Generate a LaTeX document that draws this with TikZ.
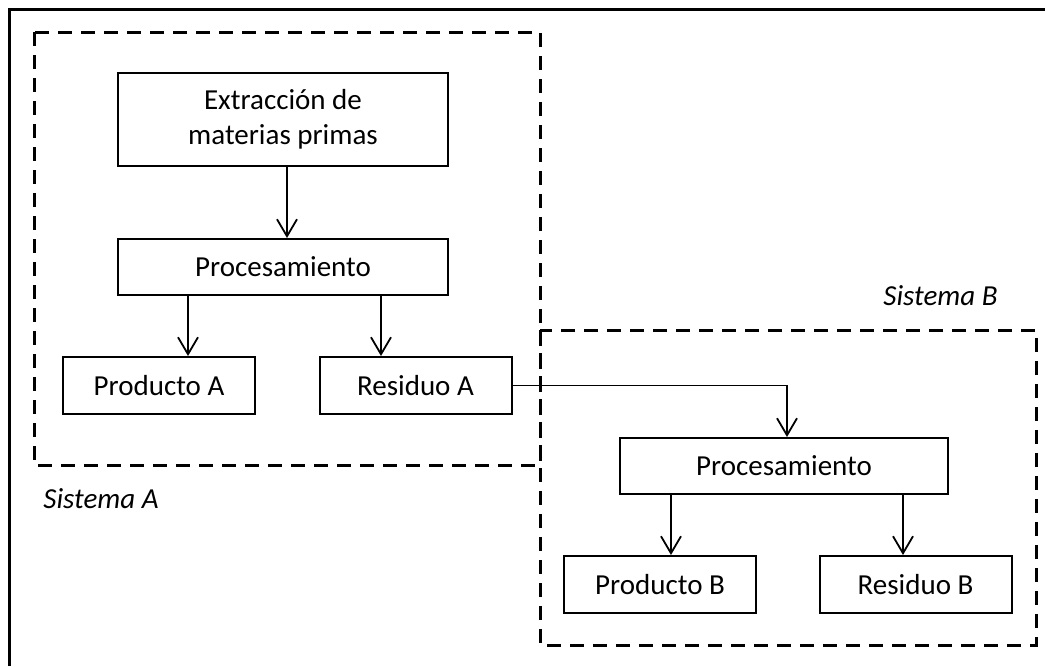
\documentclass[tikz,border=0pt]{standalone}
\usepackage{fontspec}
\setmainfont{Carlito}
\usetikzlibrary{arrows.meta, positioning, calc}

\begin{document}
\begin{tikzpicture}[
    x=0.5pt, y=-0.5pt,
    block/.style={draw=black, line width=1pt, minimum width=96pt, minimum height=28.5pt, inner sep=0pt, font=\fontsize{14.5}{17.5}\selectfont},
    wide/.style={minimum width=165pt},
    edge/.style={-{Straight Barb[length=8.5pt, width=10pt]}, line width=0.9pt},
    system/.style={dash pattern=on 7pt off 4.5pt, line width=1.5pt},
    label/.style={font=\fontsize{14.5}{17.5}\selectfont\itshape, anchor=base west, inner sep=0pt}
]
\useasboundingbox (0,0) rectangle (1045,666);

% outer frame, left and top edges
\draw[line width=1.5pt] (9,666) -- (9,9) -- (1045,9);

% System A
\node[block, wide, minimum height=46.5pt, align=center] (extr) at (283,119.5) {Extracción de\\materias primas};
\node[block, wide, minimum height=28pt] (procA) at (283,267) {Procesamiento};
\node[block] (prodA) at (159,385.5) {Producto A};
\node[block] (resA) at (415.5,385.5) {Residuo A};

\draw[edge] ([xshift=2pt]extr.south) -- ([xshift=2pt]procA.north);
\draw[edge] ([xshift=-47.5pt]procA.south) -- ([xshift=-47.5pt]procA.south |- prodA.north);
\draw[edge] ([xshift=49pt]procA.south) -- ([xshift=49pt]procA.south |- resA.north);

\draw[system] (34,32) rectangle (540,465);
\node[label] (sysA) at (43,508) {Sistema A};

% System B
\node[block, minimum width=164pt, minimum height=28pt] (procB) at (784,466) {Procesamiento};
\node[block] (prodB) at (660,584.5) {Producto B};
\node[block] (resB) at (915.5,584.5) {Residuo B};

\draw[edge] (resA.east) -| ([xshift=1.5pt]procB.north);
\draw[edge] ([xshift=-56.5pt]procB.south) -- ([xshift=-56.5pt]procB.south |- prodB.north);
\draw[edge] ([xshift=59.5pt]procB.south) -- ([xshift=59.5pt]procB.south |- resB.north);

\draw[system] (540,330) rectangle (1036,645);
\node[label] (sysB) at (883,305) {Sistema B};

\end{tikzpicture}
\end{document}
